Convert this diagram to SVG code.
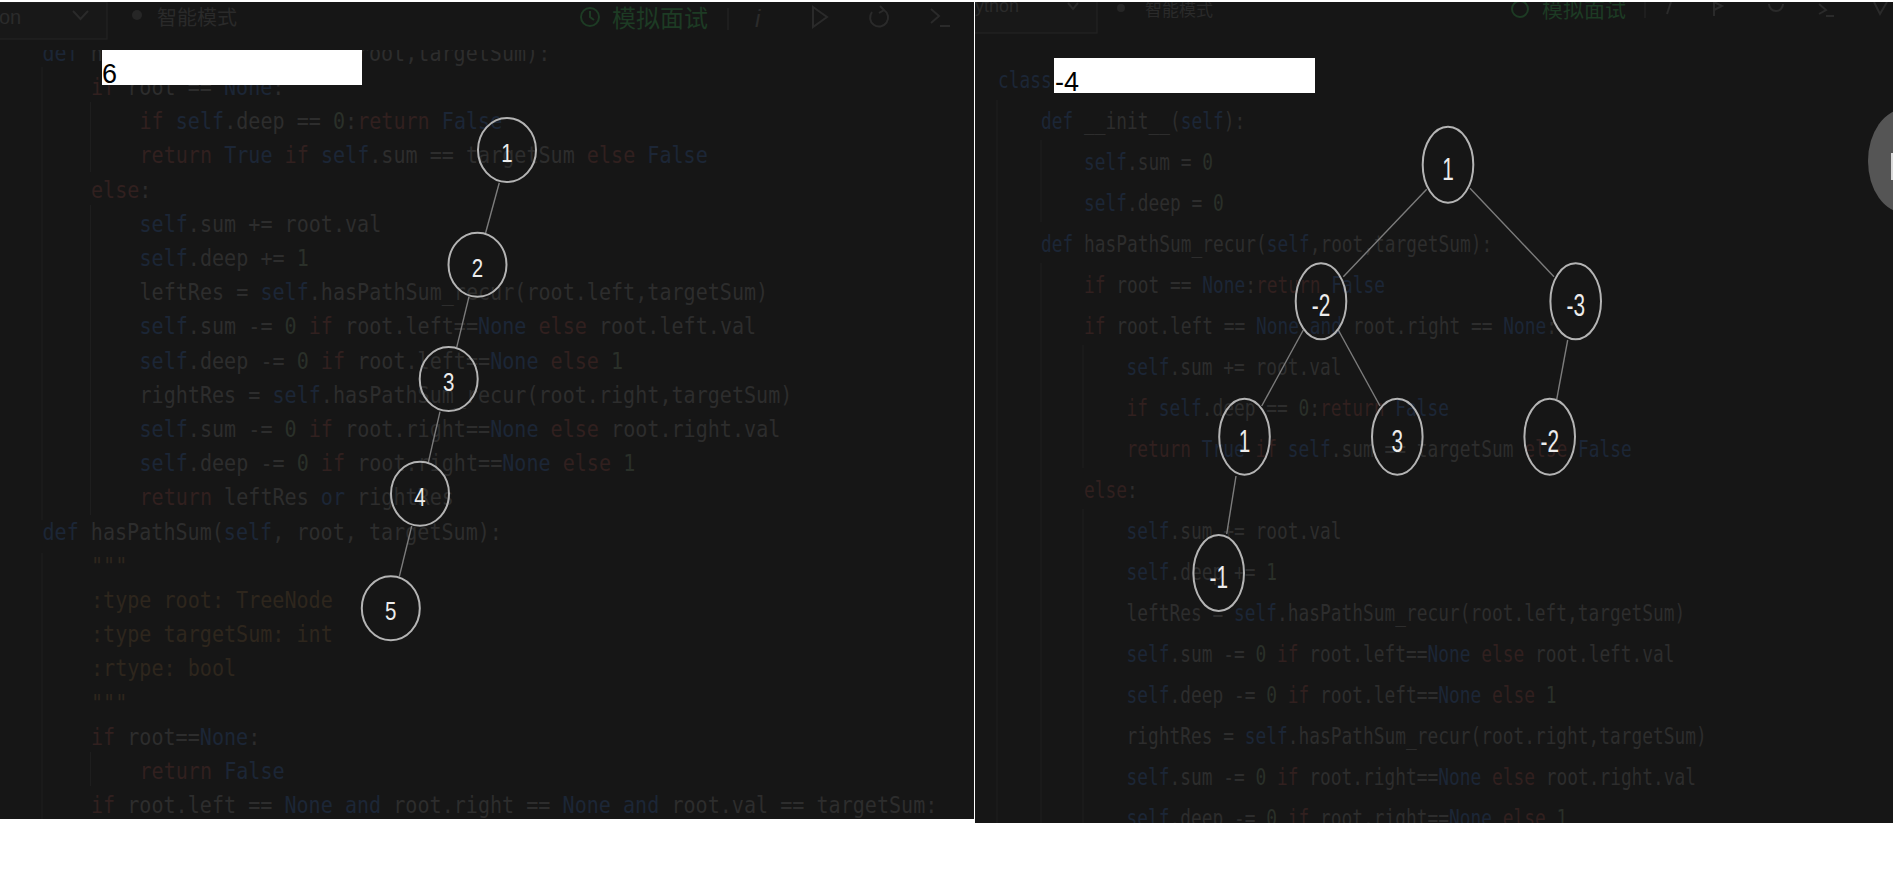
<svg xmlns="http://www.w3.org/2000/svg" width="1901" height="869" viewBox="0 0 1901 869">
<defs>
<style>
.code{font-family:"DejaVu Sans Mono","Liberation Mono",monospace;fill:#2d2d2d}
.lc{font-size:23px}
.rc{font-size:22.6px}
.k{fill:#31201f}
.b{fill:#1c2636}
.n{fill:#2a3029}
.s{fill:#2e261d}
.ui{font-family:"Liberation Sans","Noto Sans CJK SC",sans-serif;fill:#2b2b2b}
.cjk{font-family:"Noto Sans CJK SC",sans-serif;fill:#2a2a2a}
.green{font-family:"Noto Sans CJK SC",sans-serif;fill:#1d3b24}
.gstroke{fill:none;stroke:#1d3b24;stroke-width:2}
.guide{stroke:#1e1e1e;stroke-width:1.3}
.node ellipse{fill:none;stroke:#b4b4b4;stroke-width:2}
.node text{font-family:"Liberation Sans",Arial,sans-serif;fill:#ececec;text-anchor:middle}
.edge{stroke:#7c7c7c;stroke-width:1.4;fill:none}
.icon{fill:none;stroke:#2a2a2a;stroke-width:2}
.val{font-family:"Liberation Sans",Arial,sans-serif;font-size:27px;fill:#000}
</style>
<clipPath id="cl"><rect x="0" y="2" width="974" height="817"/></clipPath>
<clipPath id="cr"><rect x="975" y="2" width="918" height="821"/></clipPath>
<clipPath id="cl0"><rect x="0" y="50" width="974" height="20"/></clipPath>
</defs>
<rect x="0" y="0" width="1901" height="869" fill="#ffffff"/>

<!-- left panel -->
<g id="left-panel" clip-path="url(#cl)">
<rect x="0" y="2" width="974" height="817" fill="#161616"/>
<rect x="-1" y="2" width="108" height="37" fill="#181818" stroke="#222222" stroke-width="1.3"/>
<text class="ui" x="-1" y="24" font-size="20">on</text>
<polyline class="icon" points="73,11 80.5,19 88,11"/>
<circle cx="137" cy="15" r="5" fill="#262626"/>
<text class="cjk" x="157" y="25" font-size="20">智能模式</text>
<circle class="gstroke" cx="590" cy="17" r="9"/>
<polyline class="gstroke" points="590,11 590,17 594,20"/>
<text class="green" x="612" y="27" font-size="24">模拟面试</text>
<line x1="728" y1="8" x2="728" y2="30" stroke="#222222" stroke-width="1.5"/>
<text class="ui" x="755" y="27" font-size="24" font-style="italic">i</text>
<path class="icon" d="M813,7 L827,17 L813,27 Z"/>
<path class="icon" d="M872,12 A9,9 0 1 0 884,10 M880,6 L884,10 L879,13"/>
<polyline class="icon" points="931,9 939,16 931,23"/>
<line class="icon" x1="940" y1="26" x2="950" y2="26"/>

<line class="guide" x1="42" y1="67" x2="42" y2="520"/>
<line class="guide" x1="42" y1="553" x2="42" y2="819"/>
<line class="guide" x1="90.5" y1="102" x2="90.5" y2="172"/>
<line class="guide" x1="90.5" y1="205" x2="90.5" y2="515"/>
<line class="guide" x1="90.5" y1="752" x2="90.5" y2="786"/>

<g clip-path="url(#cl0)"><g transform="scale(0.874,1)">
<text class="code lc" x="48.6" y="60.9"><tspan class="b">def</tspan> hasPathSum_recur(<tspan class="b">self</tspan>,root,targetSum):</text>
</g></g>
<g transform="scale(0.874,1)">
<text class="code lc" x="104.1" y="95.1"><tspan class="k">if</tspan> root == <tspan class="b">None</tspan>:</text>
<text class="code lc" x="159.6" y="129.3"><tspan class="k">if</tspan> <tspan class="b">self</tspan>.deep == <tspan class="n">0</tspan>:<tspan class="k">return</tspan> <tspan class="b">False</tspan></text>
<text class="code lc" x="159.6" y="163.5"><tspan class="k">return</tspan> <tspan class="b">True</tspan> <tspan class="k">if</tspan> <tspan class="b">self</tspan>.sum == targetSum <tspan class="k">else</tspan> <tspan class="b">False</tspan></text>
<text class="code lc" x="104.1" y="197.7"><tspan class="k">else</tspan>:</text>
<text class="code lc" x="159.6" y="231.9"><tspan class="b">self</tspan>.sum += root.val</text>
<text class="code lc" x="159.6" y="266.1"><tspan class="b">self</tspan>.deep += <tspan class="n">1</tspan></text>
<text class="code lc" x="159.6" y="300.3">leftRes = <tspan class="b">self</tspan>.hasPathSum_recur(root.left,targetSum)</text>
<text class="code lc" x="159.6" y="334.5"><tspan class="b">self</tspan>.sum -= <tspan class="n">0</tspan> <tspan class="k">if</tspan> root.left==<tspan class="b">None</tspan> <tspan class="k">else</tspan> root.left.val</text>
<text class="code lc" x="159.6" y="368.7"><tspan class="b">self</tspan>.deep -= <tspan class="n">0</tspan> <tspan class="k">if</tspan> root.left==<tspan class="b">None</tspan> <tspan class="k">else</tspan> <tspan class="n">1</tspan></text>
<text class="code lc" x="159.6" y="402.9">rightRes = <tspan class="b">self</tspan>.hasPathSum_recur(root.right,targetSum)</text>
<text class="code lc" x="159.6" y="437.1"><tspan class="b">self</tspan>.sum -= <tspan class="n">0</tspan> <tspan class="k">if</tspan> root.right==<tspan class="b">None</tspan> <tspan class="k">else</tspan> root.right.val</text>
<text class="code lc" x="159.6" y="471.3"><tspan class="b">self</tspan>.deep -= <tspan class="n">0</tspan> <tspan class="k">if</tspan> root.right==<tspan class="b">None</tspan> <tspan class="k">else</tspan> <tspan class="n">1</tspan></text>
<text class="code lc" x="159.6" y="505.5"><tspan class="k">return</tspan> leftRes <tspan class="b">or</tspan> rightRes</text>
<text class="code lc" x="48.6" y="539.7"><tspan class="b">def</tspan> hasPathSum(<tspan class="b">self</tspan>, root, targetSum):</text>
<text class="code lc" x="104.1" y="573.9"><tspan class="s">"""</tspan></text>
<text class="code lc" x="104.1" y="608.1"><tspan class="s">:type root: TreeNode</tspan></text>
<text class="code lc" x="104.1" y="642.3"><tspan class="s">:type targetSum: int</tspan></text>
<text class="code lc" x="104.1" y="676.5"><tspan class="s">:rtype: bool</tspan></text>
<text class="code lc" x="104.1" y="710.7"><tspan class="s">"""</tspan></text>
<text class="code lc" x="104.1" y="744.9"><tspan class="k">if</tspan> root==<tspan class="b">None</tspan>:</text>
<text class="code lc" x="159.6" y="779.1"><tspan class="k">return</tspan> <tspan class="b">False</tspan></text>
<text class="code lc" x="104.1" y="813.3"><tspan class="k">if</tspan> root.left == <tspan class="b">None</tspan> <tspan class="b">and</tspan> root.right == <tspan class="b">None</tspan> <tspan class="b">and</tspan> root.val == targetSum:</text>
</g>
</g>

<!-- right panel -->
<g id="right-panel" clip-path="url(#cr)">
<rect x="975" y="2" width="918" height="821" fill="#161616"/>
<rect x="974" y="1" width="123" height="32" fill="#181818" stroke="#222222" stroke-width="1.3"/>
<text class="ui" x="975" y="12" font-size="18">ython</text>
<polyline class="icon" points="1068,3 1073,9 1078,3"/>
<circle cx="1121" cy="8" r="4" fill="#262626"/>
<text class="cjk" x="1145" y="16" font-size="17">智能模式</text>
<circle class="gstroke" cx="1520" cy="9" r="8"/>
<text class="green" x="1542" y="17" font-size="21">模拟面试</text>
<line x1="1645" y1="2" x2="1645" y2="18" stroke="#222222" stroke-width="1.5"/>
<line class="icon" x1="1671" y1="2" x2="1667" y2="14"/>
<path class="icon" d="M1714,0 L1714,16 M1714,2 L1722,6 L1714,10"/>
<path class="icon" d="M1769,4 A7,7 0 1 0 1783,4"/>
<polyline class="icon" points="1819,4 1826,10 1819,14"/>
<line class="icon" x1="1826" y1="16" x2="1834" y2="16"/>
<path class="icon" d="M1874,2 L1880,14 L1887,2"/>

<line class="guide" x1="997" y1="100" x2="997" y2="823"/>
<line class="guide" x1="1041" y1="140" x2="1041" y2="222"/>
<line class="guide" x1="1041" y1="263" x2="1041" y2="823"/>
<line class="guide" x1="1083" y1="345" x2="1083" y2="468"/>
<line class="guide" x1="1083" y1="509" x2="1083" y2="823"/>

<g transform="scale(0.79,1)">
<text class="code rc" x="1263.3" y="88"><tspan class="b">class</tspan> Solution(object):</text>
<text class="code rc" x="1317.7" y="129"><tspan class="b">def</tspan> __init__(<tspan class="b">self</tspan>):</text>
<text class="code rc" x="1372.2" y="170"><tspan class="b">self</tspan>.sum = <tspan class="n">0</tspan></text>
<text class="code rc" x="1372.2" y="211"><tspan class="b">self</tspan>.deep = <tspan class="n">0</tspan></text>
<text class="code rc" x="1317.7" y="252"><tspan class="b">def</tspan> hasPathSum_recur(<tspan class="b">self</tspan>,root,targetSum):</text>
<text class="code rc" x="1372.2" y="293"><tspan class="k">if</tspan> root == <tspan class="b">None</tspan>:<tspan class="k">return</tspan> <tspan class="b">False</tspan></text>
<text class="code rc" x="1372.2" y="334"><tspan class="k">if</tspan> root.left == <tspan class="b">None</tspan> <tspan class="b">and</tspan> root.right == <tspan class="b">None</tspan>:</text>
<text class="code rc" x="1426" y="375"><tspan class="b">self</tspan>.sum += root.val</text>
<text class="code rc" x="1426" y="416"><tspan class="k">if</tspan> <tspan class="b">self</tspan>.deep == <tspan class="n">0</tspan>:<tspan class="k">return</tspan> <tspan class="b">False</tspan></text>
<text class="code rc" x="1426" y="457"><tspan class="k">return</tspan> <tspan class="b">True</tspan> <tspan class="k">if</tspan> <tspan class="b">self</tspan>.sum == targetSum <tspan class="k">else</tspan> <tspan class="b">False</tspan></text>
<text class="code rc" x="1372.2" y="498"><tspan class="k">else</tspan>:</text>
<text class="code rc" x="1426" y="539"><tspan class="b">self</tspan>.sum += root.val</text>
<text class="code rc" x="1426" y="580"><tspan class="b">self</tspan>.deep += <tspan class="n">1</tspan></text>
<text class="code rc" x="1426" y="621">leftRes = <tspan class="b">self</tspan>.hasPathSum_recur(root.left,targetSum)</text>
<text class="code rc" x="1426" y="662"><tspan class="b">self</tspan>.sum -= <tspan class="n">0</tspan> <tspan class="k">if</tspan> root.left==<tspan class="b">None</tspan> <tspan class="k">else</tspan> root.left.val</text>
<text class="code rc" x="1426" y="703"><tspan class="b">self</tspan>.deep -= <tspan class="n">0</tspan> <tspan class="k">if</tspan> root.left==<tspan class="b">None</tspan> <tspan class="k">else</tspan> <tspan class="n">1</tspan></text>
<text class="code rc" x="1426" y="744">rightRes = <tspan class="b">self</tspan>.hasPathSum_recur(root.right,targetSum)</text>
<text class="code rc" x="1426" y="785"><tspan class="b">self</tspan>.sum -= <tspan class="n">0</tspan> <tspan class="k">if</tspan> root.right==<tspan class="b">None</tspan> <tspan class="k">else</tspan> root.right.val</text>
<text class="code rc" x="1426" y="826"><tspan class="b">self</tspan>.deep -= <tspan class="n">0</tspan> <tspan class="k">if</tspan> root.right==<tspan class="b">None</tspan> <tspan class="k">else</tspan> <tspan class="n">1</tspan></text>
</g>
<ellipse cx="1905" cy="161" rx="37" ry="52" fill="#555555"/>
<rect x="1891" y="153" width="2" height="27" fill="#d8d8d8"/>
</g>

<!-- value boxes -->
<g id="left-value">
<rect x="102" y="50" width="260" height="35" fill="#ffffff"/>
<text class="val" x="102" y="82.7">6</text>
</g>
<g id="right-value">
<rect x="1054" y="58" width="261" height="35" fill="#ffffff"/>
<text class="val" x="1055" y="90.7">-4</text>
</g>

<!-- connectors -->
<g id="connectors">
<line class="edge" x1="499.3" y1="182.7" x2="485.3" y2="234"/>
<line class="edge" x1="469" y1="296.7" x2="456.7" y2="347.3"/>
<line class="edge" x1="440" y1="411.7" x2="428.3" y2="462.7"/>
<line class="edge" x1="411.7" y1="526" x2="399.3" y2="576.7"/>
<line class="edge" x1="1426.7" y1="189.3" x2="1343.3" y2="276.7"/>
<line class="edge" x1="1470" y1="188.3" x2="1554" y2="276.7"/>
<line class="edge" x1="1303.3" y1="330" x2="1261.7" y2="406"/>
<line class="edge" x1="1338.3" y1="330" x2="1380" y2="406"/>
<line class="edge" x1="1567.7" y1="340" x2="1556.7" y2="399.3"/>
<line class="edge" x1="1236" y1="476" x2="1226.7" y2="534"/>
</g>

<!-- left tree nodes -->
<g id="L1" class="node"><ellipse cx="507" cy="150" rx="29" ry="32"/><text transform="translate(507,162) scale(0.82,1)" font-size="25">1</text></g>
<g id="L2" class="node"><ellipse cx="477.5" cy="264.7" rx="29" ry="32"/><text transform="translate(477.5,276.7) scale(0.82,1)" font-size="25">2</text></g>
<g id="L3" class="node"><ellipse cx="448.7" cy="379" rx="29" ry="32"/><text transform="translate(448.7,391) scale(0.82,1)" font-size="25">3</text></g>
<g id="L4" class="node"><ellipse cx="420" cy="493.7" rx="29" ry="32"/><text transform="translate(420,505.7) scale(0.82,1)" font-size="25">4</text></g>
<g id="L5" class="node"><ellipse cx="390.8" cy="608.3" rx="29" ry="32"/><text transform="translate(390.8,620.3) scale(0.82,1)" font-size="25">5</text></g>

<!-- right tree nodes -->
<g id="R1" class="node"><ellipse cx="1448" cy="164.7" rx="25.3" ry="38"/><text transform="translate(1448,179.7) scale(0.65,1)" font-size="32">1</text></g>
<g id="R2" class="node"><ellipse cx="1321" cy="301.3" rx="25.3" ry="38"/><text transform="translate(1321,316.3) scale(0.65,1)" font-size="32">-2</text></g>
<g id="R3" class="node"><ellipse cx="1575.7" cy="301.3" rx="25.3" ry="38"/><text transform="translate(1575.7,316.3) scale(0.65,1)" font-size="32">-3</text></g>
<g id="R4" class="node"><ellipse cx="1244.5" cy="436.7" rx="25.3" ry="38"/><text transform="translate(1244.5,451.7) scale(0.65,1)" font-size="32">1</text></g>
<g id="R5" class="node"><ellipse cx="1397.3" cy="436.7" rx="25.3" ry="38"/><text transform="translate(1397.3,451.7) scale(0.65,1)" font-size="32">3</text></g>
<g id="R6" class="node"><ellipse cx="1549.7" cy="436.7" rx="25.3" ry="38"/><text transform="translate(1549.7,451.7) scale(0.65,1)" font-size="32">-2</text></g>
<g id="R7" class="node"><ellipse cx="1218.7" cy="573" rx="25.3" ry="38"/><text transform="translate(1218.7,588) scale(0.65,1)" font-size="32">-1</text></g>
</svg>
